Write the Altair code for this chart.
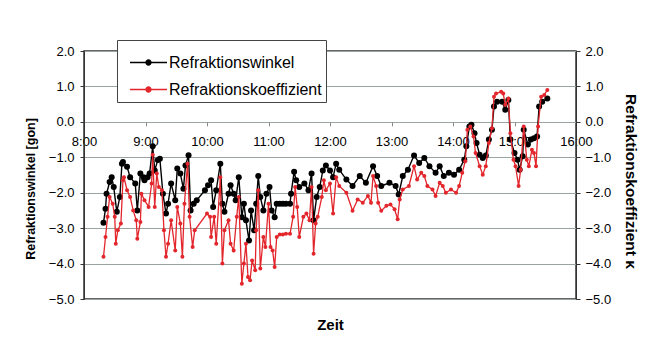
import altair as alt
import pandas as pd

# ---------------- data ----------------
series_names = ["Refraktionswinkel", "Refraktionskoeffizient"]
series_colors = ["#000000", "#e3262c"]

black_times = [
    "8:19", "8:21", "8:22", "8:25", "8:27", "8:29", "8:32", "8:35", "8:37", "8:38",
    "8:42", "8:45", "8:50", "8:52", "8:55", "8:58", "8:59", "9:02", "9:04", "9:07",
    "9:09", "9:12", "9:14", "9:17", "9:20", "9:22", "9:25", "9:29", "9:31", "9:34",
    "9:37", "9:39", "9:42", "9:44", "9:47", "9:50", "9:58", "10:01", "10:04", "10:06",
    "10:09", "10:13", "10:15", "10:17", "10:21", "10:23", "10:26", "10:28", "10:31", "10:34",
    "10:36", "10:38", "10:41", "10:43", "10:46", "10:48", "10:50", "10:52", "10:55", "10:58",
    "11:01", "11:03", "11:06", "11:08", "11:11", "11:14", "11:17", "11:21", "11:22", "11:25",
    "11:27", "11:30", "11:35", "11:39", "11:42", "11:44", "11:47", "11:50", "11:53", "11:56",
    "12:00", "12:03", "12:06", "12:09", "12:16", "12:22", "12:29", "12:35", "12:42", "12:46",
    "12:50", "12:58", "13:04", "13:07", "13:11", "13:16", "13:22", "13:27", "13:32", "13:37",
    "13:43", "13:47", "13:51", "13:56", "14:01", "14:06", "14:11", "14:13", "14:16", "14:18",
    "14:21", "14:23", "14:26", "14:29", "14:32", "14:35", "14:38", "14:40", "14:43", "14:48",
    "14:51", "14:54", "14:56", "15:00", "15:03", "15:05", "15:08", "15:09", "15:13", "15:16",
    "15:19", "15:22", "15:24", "15:27", "15:32",
]
black_vals = [
    -2.85, -2.45, -2.03, -1.70, -1.56, -1.84, -2.54, -2.12, -1.18, -1.13,
    -1.27, -1.56, -1.74, -2.50, -1.46, -1.56, -1.65, -1.56, -1.46, -0.69,
    -1.37, -1.08, -1.04, -2.03, -2.59, -2.31, -1.74, -2.21, -1.32, -1.46,
    -1.89, -1.23, -0.94, -2.50, -2.31, -2.21, -1.93, -1.79, -1.65, -2.40,
    -1.93, -1.18, -2.31, -2.54, -2.03, -1.79, -2.03, -2.21, -1.56, -2.69,
    -2.31, -2.78, -3.35, -2.50, -3.06, -2.31, -1.53, -2.12, -2.50, -2.03,
    -1.84, -2.50, -2.69, -2.31, -2.31, -2.31, -2.31, -2.31, -2.03, -1.41,
    -1.65, -1.84, -1.74, -1.93, -1.46, -2.78, -2.12, -1.84, -1.37, -1.23,
    -1.37, -1.56, -1.18, -1.35, -1.63, -1.81, -1.53, -1.72, -1.25, -1.53,
    -1.81, -1.72, -1.81, -2.05, -1.53, -1.35, -0.95, -1.16, -1.02, -1.25,
    -1.44, -1.25, -1.53, -1.44, -1.49, -1.35, -1.07, -0.69, -0.13, -0.08,
    -0.32, -0.60, -0.93, -1.02, -0.95, -0.50, -0.22, 0.43, 0.57, 0.57,
    0.34, 0.62, -0.50, -0.88, -1.07, -1.35, -0.97, -0.22, -0.64, -0.50,
    -0.46, -0.41, 0.43, 0.57, 0.66,
]

red_times = [
    "8:19", "8:21", "8:23", "8:25", "8:28", "8:30", "8:31", "8:33", "8:36", "8:38",
    "8:39", "8:42", "8:45", "8:48", "8:51", "8:52", "8:55", "8:56", "8:59", "9:03",
    "9:06", "9:07", "9:09", "9:11", "9:13", "9:16", "9:18", "9:20", "9:22", "9:25",
    "9:29", "9:31", "9:34", "9:36", "9:38", "9:41", "9:43", "9:46", "9:48", "10:00",
    "10:03", "10:04", "10:07", "10:09", "10:13", "10:15", "10:17", "10:21", "10:23", "10:26",
    "10:29", "10:31", "10:34", "10:36", "10:38", "10:40", "10:42", "10:44", "10:47", "10:48",
    "10:50", "10:52", "10:55", "10:57", "11:00", "11:02", "11:04", "11:06", "11:08", "11:11",
    "11:14", "11:17", "11:21", "11:24", "11:26", "11:28", "11:30", "11:34", "11:37", "11:40",
    "11:42", "11:44", "11:46", "11:48", "11:52", "11:54", "11:56", "12:00", "12:03", "12:06",
    "12:09", "12:16", "12:22", "12:27", "12:32", "12:37", "12:40", "12:42", "12:45", "12:47",
    "12:50", "12:55", "12:59", "13:03", "13:06", "13:08", "13:11", "13:17", "13:22", "13:25",
    "13:29", "13:32", "13:35", "13:40", "13:43", "13:47", "13:50", "13:53", "13:58", "14:03",
    "14:06", "14:09", "14:12", "14:14", "14:17", "14:20", "14:22", "14:26", "14:29", "14:32",
    "14:35", "14:38", "14:40", "14:42", "14:47", "14:49", "14:51", "14:54", "14:56", "14:59",
    "15:01", "15:04", "15:06", "15:09", "15:12", "15:14", "15:17", "15:19", "15:21", "15:23",
    "15:26", "15:29", "15:32",
]
red_vals = [
    -3.81, -3.25, -2.68, -2.12, -2.31, -2.68, -3.44, -3.06, -2.87, -1.65,
    -1.56, -1.93, -2.12, -2.50, -2.78, -3.30, -2.83, -2.03, -2.21, -2.40,
    -1.74, -0.93, -2.40, -1.46, -1.84, -1.93, -3.06, -3.81, -3.44, -2.78,
    -3.63, -2.40, -2.87, -3.81, -2.31, -1.18, -2.68, -3.53, -3.06, -2.59,
    -2.68, -3.25, -2.68, -3.44, -1.56, -4.00, -3.06, -2.78, -3.44, -3.63,
    -2.68, -2.12, -4.57, -4.00, -3.44, -4.38, -4.47, -3.91, -4.19, -3.06,
    -1.93, -4.14, -3.25, -3.53, -2.31, -3.53, -3.63, -4.10, -3.25, -3.18,
    -3.18, -3.16, -3.16, -2.68, -1.84, -2.40, -3.25, -2.68, -2.59, -2.78,
    -1.84, -3.72, -2.87, -2.68, -2.12, -1.65, -1.93, -1.74, -2.59, -1.56,
    -1.81, -2.00, -2.51, -2.19, -2.28, -2.09, -2.28, -1.53, -1.81, -2.28,
    -2.51, -2.37, -2.33, -2.47, -2.75, -2.19, -1.91, -1.81, -1.25, -1.63,
    -1.44, -1.53, -1.81, -1.91, -2.09, -1.72, -1.81, -2.00, -1.91, -2.00,
    -1.81, -1.44, -1.11, -0.22, -0.13, -0.41, -0.88, -1.25, -1.49, -1.25,
    -0.60, -0.18, 0.71, 0.80, 0.85, 0.80, 0.48, 0.66, -0.32, -1.07,
    -1.25, -1.81, -1.35, -0.13, -1.07, -1.25, -0.79, -0.88, -1.25, -0.13,
    0.71, 0.76, 0.90,
]

x_ticks = [8, 9, 10, 11, 12, 13, 14, 15, 16]
y_ticks = [-5, -4, -3, -2, -1, 0, 1, 2]


def to_hours(s):
    h, m = s.split(":")
    return int(h) + int(m) / 60.0


black_df = pd.DataFrame({"t": [to_hours(s) for s in black_times],
                         "v": black_vals, "series": series_names[0]})
red_df = pd.DataFrame({"t": [to_hours(s) for s in red_times],
                       "v": red_vals, "series": series_names[1]})

# ---------------- layout / style ----------------
FONT = "Liberation Sans"
W, H = 492, 248
ZERO_UP = H * 5 / 7          # distance of the 0-line above the plot bottom
GRID = "#9aa5a0"
LEGEND_PATH = ("M-1,-0.045H1V0.045H-1Z "
               "M-0.17,0A0.17,0.17 0 1,1 0.17,0A0.17,0.17 0 1,1 -0.17,0Z")

xscale = alt.Scale(domain=[8, 16], nice=False, zero=False)
yscale = alt.Scale(domain=[-5, 2], nice=False, zero=False)

x_axis = alt.Axis(
    values=x_ticks, labelExpr="floor(datum.value) + ':00'",
    offset=-ZERO_UP, grid=False, domain=False, ticks=True, tickSize=4,
    tickColor="#888888", labelPadding=10, labelFlush=False, labelOverlap=False,
    title="Zeit", titleY=196, titleBaseline="top", titleFontSize=15,
)

left_axis = alt.Axis(
    orient="left", values=y_ticks, format=".1f", grid=True, gridColor=GRID,
    tickSize=4, tickColor="#333333", domain=True, domainColor="#333333",
    labelPadding=6, labelFlush=False, labelOverlap=False,
    title="Refraktionswinkel [gon]", titlePadding=11, titleY=137.5,
    titleFontSize=12.5,
)
right_axis = alt.Axis(
    orient="right", values=y_ticks, format=".1f", grid=False,
    tickSize=4, tickColor="#333333", domain=True, domainColor="#333333",
    labelPadding=5, labelFlush=False, labelOverlap=False,
    title="Refraktionskoeffizient \u03ba", titlePadding=12, titleY=130,
    titleFontSize=15.5,
)

legend = alt.Legend(
    orient="none", legendX=33, legendY=-11, title=None, direction="vertical",
    fillColor="white", strokeColor="#444444", padding=4,
    labelFont=FONT, labelFontSize=16, labelColor="black", labelOffset=2,
    symbolType=LEGEND_PATH, symbolSize=1369, symbolStrokeWidth=0,
    symbolOpacity=1, rowPadding=-3, symbolOffset=9,
)
color = alt.Color("series:N", scale=alt.Scale(domain=series_names, range=series_colors),
                  sort=series_names, legend=legend)

x_enc = alt.X("t:Q", scale=xscale, axis=x_axis)
y_left = alt.Y("v:Q", scale=yscale, axis=left_axis)
y_right = alt.Y("v:Q", scale=yscale, axis=right_axis)

black_line = alt.Chart(black_df).mark_line(color=series_colors[0], strokeWidth=1.4).encode(
    x=x_enc, y=y_left,
)
black_pts = alt.Chart(black_df).mark_point(filled=True, opacity=1, size=36).encode(
    x=x_enc, y=y_left, color=color,
)
red_line = alt.Chart(red_df).mark_line(color=series_colors[1], strokeWidth=1.3).encode(
    x=x_enc, y=y_right,
)
red_pts = alt.Chart(red_df).mark_point(filled=True, opacity=1, size=16).encode(
    x=x_enc, y=y_right, color=color,
)

black = alt.layer(black_line, black_pts)
red = alt.layer(red_line, red_pts)

chart = alt.layer(black, red).resolve_scale(y="independent").properties(
    width=W, height=H,
    autosize=alt.AutoSizeParams(type="none"),
    padding={"left": 76, "top": 43, "right": 68, "bottom": 49},
    background="white",
).configure_view(
    stroke="#333333", strokeWidth=1.5,
).configure_axis(
    labelFont=FONT, labelFontSize=13, labelColor="black",
    titleFont=FONT, titleFontSize=13, titleFontWeight="bold", titleColor="black",
)

chart.save("out.html", embed_options={"renderer": "svg", "actions": False})
